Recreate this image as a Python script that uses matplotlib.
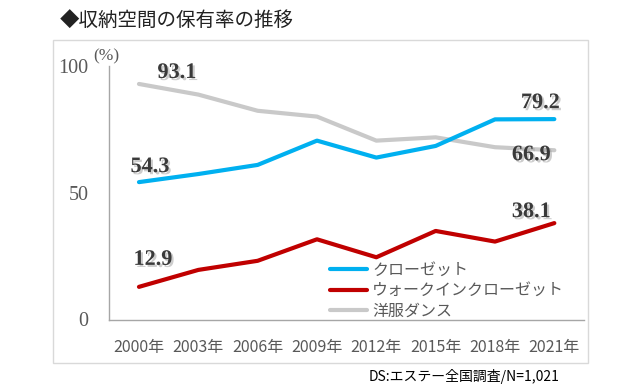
import matplotlib.pyplot as plt
import matplotlib.patheffects as pe
from matplotlib.patches import Rectangle
import numpy as np

plt.rcParams['font.family'] = ['Noto Sans CJK JP', 'DejaVu Sans']

# Data
years = ['2000年', '2003年', '2006年', '2009年', '2012年', '2015年', '2018年', '2021年']
closet = [54.3, 57.5, 61.1, 70.7, 64.0, 68.6, 79.1, 79.2]
walkin = [12.9, 19.6, 23.2, 31.7, 24.6, 35.0, 30.8, 38.1]
tansu = [93.1, 88.9, 82.5, 80.2, 70.7, 72.0, 68.1, 66.9]
series_names = ['クローゼット', 'ウォークインクローゼット', '洋服ダンス']
colors = ['#00B0F0', '#C00000', '#C9C9C9']

W, H = 636, 392
fig = plt.figure(figsize=(W / 100, H / 100), dpi=100)
ax = fig.add_axes([109.3 / W, 1 - 319.5 / H, (584 - 109.3) / W, (319.5 - 66.5) / H])

x = np.arange(len(years))
# grey line first so the others sit on top
ax.plot(x, tansu, color=colors[2], lw=3, solid_capstyle='round', zorder=2)
ax.plot(x, closet, color=colors[0], lw=3, solid_capstyle='round', zorder=3)
ax.plot(x, walkin, color=colors[1], lw=3, solid_capstyle='round', zorder=3)

ax.set_xlim(-0.5, len(years) - 0.5)
ax.set_ylim(0, 100)
ax.set_yticks([0, 50, 100])
ax.set_yticklabels(['0', '50', '100'], family='Liberation Serif', fontsize=14.5, color='#595959')
ax.set_xticks(x)
ax.set_xticklabels(years, fontsize=11.5, color='#595959')
ax.tick_params(axis='both', length=0)
ax.tick_params(axis='y', pad=15)
ax.tick_params(axis='x', pad=14)
for s in ['top', 'right']:
    ax.spines[s].set_visible(False)
for s in ['left', 'bottom']:
    ax.spines[s].set_color('#A6A6A6')
    ax.spines[s].set_linewidth(1)
ax.patch.set_alpha(0)

# data labels at first and last point
shadow = [pe.SimplePatchShadow(offset=(1.5, -1.5), shadow_rgbFace='#909090', alpha=0.45), pe.Normal()]
labels = [
    (0, tansu[0], (38, 11)),
    (0, closet[0], (11, 15)),
    (0, walkin[0], (14, 27)),
    (7, closet[7], (-14, 16)),
    (7, tansu[7], (-23, -5)),
    (7, walkin[7], (-23, 11)),
]
for xi, yi, off in labels:
    ax.annotate(f'{yi:.1f}', (xi, yi), xytext=off, textcoords='offset pixels',
                ha='center', va='center', family='Liberation Serif', fontweight='bold',
                fontsize=16, color='#3A3A3A', path_effects=shadow)

ax.text(93 / W, 1 - 56.7 / H, '(%)', transform=fig.transFigure, family='Liberation Serif',
        fontsize=12.5, color='#595959', ha='left', va='center')

leg = ax.legend(ax.lines[1:] + ax.lines[:1], series_names, loc='upper left',
                bbox_to_anchor=(330 / W, 1 - 262 / H), bbox_transform=fig.transFigure,
                frameon=False, fontsize=11.5, borderpad=0, borderaxespad=0,
                handlelength=2.3, handletextpad=0.35, labelspacing=0.2)
for t in leg.get_texts():
    t.set_color('#595959')

# outer frame
fig.patches.append(Rectangle((53 / W, 1 - 363 / H), (588 - 53) / W, (363 - 40) / H,
                             transform=fig.transFigure, fill=False, edgecolor='#D9D9D9', lw=1))

fig.text(60 / W, 1 - 20 / H, '◆収納空間の保有率の推移', fontsize=14, color='#222222',
         ha='left', va='center')
fig.text(560 / W, 1 - 376 / H, 'DS:エステー全国調査/N=1,021', fontsize=10, color='black',
         ha='right', va='center')

fig.savefig('out.png', dpi=100)
